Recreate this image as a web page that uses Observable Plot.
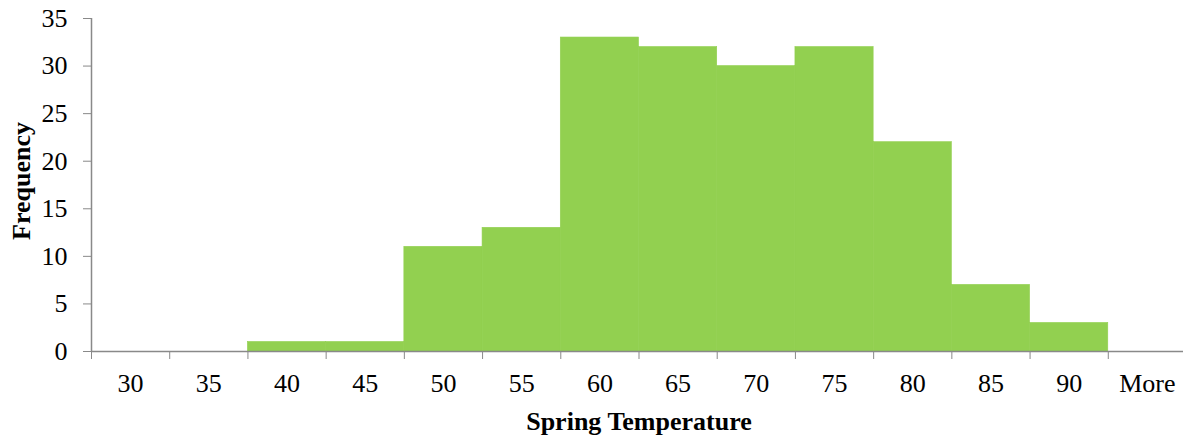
<!DOCTYPE html>
<html>
<head>
<meta charset="utf-8">
<script src="https://cdn.jsdelivr.net/npm/d3@7"></script>
<script src="https://cdn.jsdelivr.net/npm/@observablehq/plot@0.6"></script>
<style>
  html, body { margin: 0; padding: 0; background: #fff; }
  #chart svg { display: block; }
</style>
</head>
<body>
<div id="chart"></div>
<script>
const categories = ["30", "35", "40", "45", "50", "55", "60", "65", "70", "75", "80", "85", "90", "More"];
const frequency = [0, 0, 1, 1, 11, 13, 33, 32, 30, 32, 22, 7, 3, 0];
const yTicks = [0, 5, 10, 15, 20, 25, 30, 35];
const xTitle = "Spring Temperature";
const yTitle = "Frequency";

const bins = categories.map((c, i) => ({ i, label: c, value: frequency[i] }));
const boundaries = d3.range(categories.length + 1);
const centers = categories.map((c, i) => i + 0.5);

const axisColor = "#898989";
const font = "Liberation Serif, Times New Roman, serif";

const chart = Plot.plot({
  width: 1183,
  height: 438,
  marginLeft: 91,
  marginRight: -3,
  marginTop: 18,
  marginBottom: 87,
  style: { fontFamily: font, fontSize: "26px", color: "#000", background: "#fff" },
  x: { type: "linear", domain: [0, categories.length] },
  y: { domain: [0, 35] },
  marks: [
    Plot.rectY(bins, { x1: "i", x2: d => d.i + 1, y1: 0, y2: "value", fill: "#92D050", stroke: "#92D050", strokeWidth: 0.6, inset: 0 }),
    Plot.axisY({ ticks: yTicks, tickSize: 8, tickPadding: 16, stroke: axisColor, fill: "#000", fontSize: 26, label: null, tickFormat: d => String(d) }),
    Plot.axisX({ ticks: boundaries, tickSize: 8, tickFormat: () => "", stroke: axisColor, label: null }),
    Plot.axisX({ ticks: centers, tickSize: 0, tickPadding: 22, fontSize: 26, fill: "#000", label: null, tickFormat: d => categories[Math.round(d - 0.5)] }),
    Plot.ruleX([0], { y1: 0, y2: 35, stroke: axisColor, strokeWidth: 1.5 }),
    Plot.ruleY([0], { stroke: axisColor, strokeWidth: 1.5 }),
    Plot.text([xTitle], { frameAnchor: "bottom", dy: 78, fontWeight: "bold", fontSize: 26, fill: "#000" }),
    Plot.text([yTitle], { frameAnchor: "left", textAnchor: "middle", dx: -70, dy: -4, rotate: -90, fontWeight: "bold", fontSize: 26, fill: "#000" })
  ]
});
document.getElementById("chart").appendChild(chart);
</script>
</body>
</html>
